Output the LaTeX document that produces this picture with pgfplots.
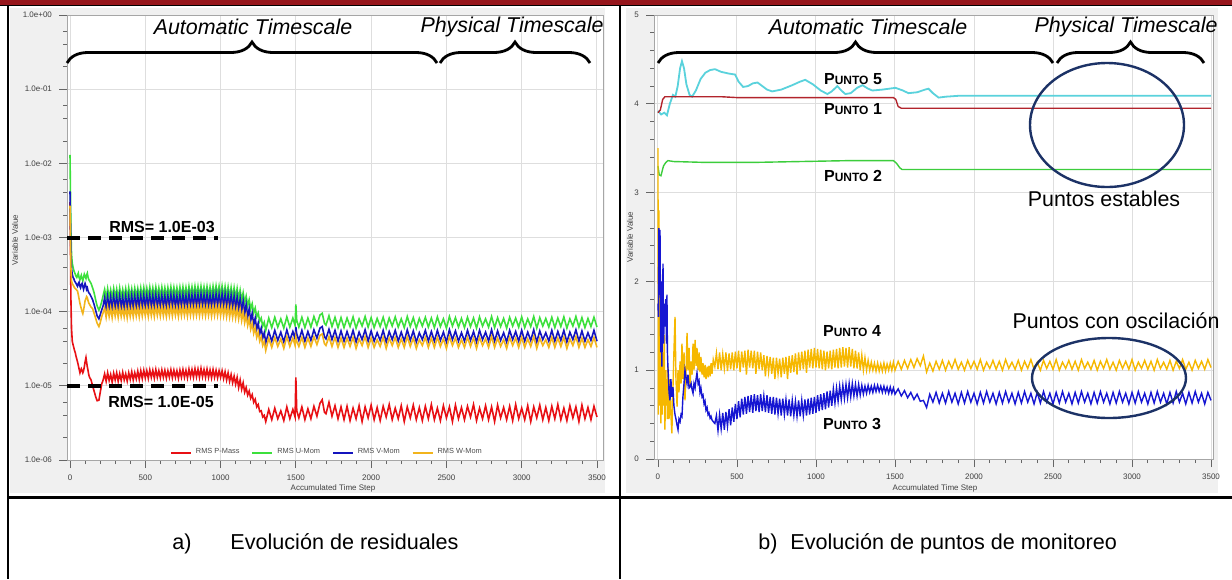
\documentclass[border=0pt]{standalone}
\usepackage{fontspec}
\setmainfont{Liberation Sans}
\usepackage{pgfplots}
\usepackage{pgfplotstable}
\pgfplotsset{compat=1.18}
\usetikzlibrary{decorations.pathreplacing}
\definecolor{topred}{RGB}{150,22,28}
\definecolor{panelgrey}{RGB}{240,240,240}
\definecolor{lred}{RGB}{232,16,20}
\definecolor{lgreen}{RGB}{60,224,60}
\definecolor{lblue}{RGB}{20,20,190}
\definecolor{lyellow}{RGB}{242,180,28}
\definecolor{pcyan}{RGB}{90,210,220}
\definecolor{pred}{RGB}{178,36,44}
\definecolor{pgreen}{RGB}{60,205,60}
\definecolor{pblue}{RGB}{22,22,210}
\definecolor{pyellow}{RGB}{246,184,0}
\definecolor{navyell}{RGB}{28,50,102}

\pgfplotstableread{
x r g b w
0 3e-3 1.3e-2 4.2e-3 2.7e-3
3 8e-4 4e-3 1.5e-3 1e-3
6 1.5e-4 1.2e-3 6e-4 4e-4
10 6e-5 6e-4 3.8e-4 2.6e-4
15 4e-5 4.5e-4 3.2e-4 2.4e-4
20 3.6e-5 4e-4 2.9e-4 2.3e-4
25 3.3e-5 3.6e-4 2.8e-4 2.2e-4
30 3e-5 3.4e-4 2.6e-4 2.1e-4
35 2.8e-5 3.2e-4 2.5e-4 2.05e-4
40 2.5e-5 3.0e-4 2.4e-4 2.0e-4
45 2.3e-5 2.9e-4 2.3e-4 1.95e-4
50 2.1e-5 3.1e-4 2.2e-4 1.9e-4
55 1.9e-5 3.3e-4 2.4e-4 1.7e-4
60 1.7e-5 2.9e-4 2.5e-4 1.5e-4
66 1.5e-5 2.7e-4 2.2e-4 1.3e-4
70 1.6e-5 2.9e-4 2.1e-4 1.2e-4
75 1.7e-5 3.1e-4 2.3e-4 1.1e-4
80 1.6e-5 2.8e-4 2.4e-4 1.0e-4
85 1.5e-5 2.6e-4 2.2e-4 9.4e-5
90 1.6e-5 2.9e-4 2.0e-4 1.05e-4
95 1.8e-5 3.2e-4 2.2e-4 1.2e-4
100 2.1e-5 3.0e-4 2.4e-4 1.4e-4
106 2.4e-5 2.8e-4 2.2e-4 1.5e-4
110 2.1e-5 3.1e-4 2.0e-4 1.6e-4
115 1.8e-5 3.3e-4 2.1e-4 1.55e-4
120 1.6e-5 2.9e-4 1.9e-4 1.4e-4
125 1.4e-5 2.7e-4 1.8e-4 1.3e-4
130 1.3e-5 2.6e-4 1.75e-4 1.25e-4
140 1.2e-5 2.4e-4 1.6e-4 1.15e-4
150 1.0e-5 2.1e-4 1.45e-4 1.1e-4
160 8.5e-6 1.8e-4 1.25e-4 9.5e-5
170 7.2e-6 1.45e-4 1.05e-4 8.2e-5
180 6.3e-6 1.2e-4 8.8e-5 7e-5
192 6.4e-6 1.05e-4 8e-5 6.3e-5
200 8e-6 1.15e-4 9e-5 7e-5
210 1.05e-5 1.35e-4 1.05e-4 8.5e-5
220 1.2e-5 1.65e-4 1.2e-4 9.7e-5
230 1.45e-5 2.0e-4 1.55e-4 1.12e-4
240 1.15e-5 1.5e-4 1.08e-4 8.4e-5
250 1.5e-5 2.05e-4 1.6e-4 1.15e-4
260 1.18e-5 1.55e-4 1.1e-4 8.6e-5
270 1.42e-5 1.98e-4 1.58e-4 1.13e-4
280 1.12e-5 1.52e-4 1.07e-4 8.3e-5
290 1.48e-5 2.06e-4 1.62e-4 1.16e-4
300 1.2e-5 1.56e-4 1.1e-4 8.7e-5
310 1.5e-5 2.02e-4 1.6e-4 1.14e-4
320 1.15e-5 1.5e-4 1.06e-4 8.4e-5
330 1.46e-5 2.08e-4 1.63e-4 1.17e-4
340 1.18e-5 1.54e-4 1.1e-4 8.6e-5
350 1.52e-5 2.0e-4 1.58e-4 1.12e-4
360 1.2e-5 1.56e-4 1.09e-4 8.5e-5
370 1.45e-5 2.05e-4 1.62e-4 1.15e-4
380 1.16e-5 1.52e-4 1.07e-4 8.3e-5
390 1.5e-5 2.1e-4 1.6e-4 1.16e-4
400 1.22e-5 1.56e-4 1.1e-4 8.6e-5
410 1.55e-5 2.04e-4 1.64e-4 1.14e-4
420 1.2e-5 1.55e-4 1.08e-4 8.5e-5
430 1.5e-5 2.08e-4 1.62e-4 1.17e-4
440 1.24e-5 1.58e-4 1.1e-4 8.7e-5
450 1.58e-5 2.06e-4 1.65e-4 1.15e-4
460 1.22e-5 1.55e-4 1.09e-4 8.5e-5
470 1.6e-5 2.1e-4 1.63e-4 1.18e-4
480 1.25e-5 1.58e-4 1.11e-4 8.7e-5
490 1.62e-5 2.12e-4 1.66e-4 1.16e-4
500 1.28e-5 1.6e-4 1.12e-4 8.8e-5
510 1.6e-5 2.08e-4 1.64e-4 1.17e-4
520 1.26e-5 1.57e-4 1.1e-4 8.6e-5
530 1.64e-5 2.14e-4 1.67e-4 1.19e-4
540 1.3e-5 1.6e-4 1.12e-4 8.8e-5
550 1.62e-5 2.1e-4 1.65e-4 1.16e-4
560 1.27e-5 1.58e-4 1.1e-4 8.6e-5
570 1.66e-5 2.15e-4 1.68e-4 1.2e-4
580 1.3e-5 1.6e-4 1.13e-4 8.9e-5
590 1.6e-5 2.1e-4 1.64e-4 1.17e-4
600 1.28e-5 1.58e-4 1.11e-4 8.7e-5
610 1.64e-5 2.14e-4 1.66e-4 1.19e-4
620 1.3e-5 1.6e-4 1.12e-4 8.8e-5
630 1.62e-5 2.1e-4 1.64e-4 1.16e-4
640 1.27e-5 1.57e-4 1.1e-4 8.6e-5
650 1.6e-5 2.12e-4 1.65e-4 1.18e-4
660 1.3e-5 1.6e-4 1.12e-4 8.8e-5
670 1.65e-5 2.16e-4 1.68e-4 1.2e-4
680 1.28e-5 1.58e-4 1.11e-4 8.7e-5
690 1.62e-5 2.12e-4 1.66e-4 1.18e-4
700 1.3e-5 1.6e-4 1.13e-4 8.9e-5
710 1.6e-5 2.1e-4 1.64e-4 1.16e-4
720 1.26e-5 1.57e-4 1.1e-4 8.6e-5
730 1.63e-5 2.14e-4 1.66e-4 1.19e-4
740 1.3e-5 1.6e-4 1.12e-4 8.8e-5
750 1.66e-5 2.16e-4 1.68e-4 1.2e-4
760 1.3e-5 1.6e-4 1.13e-4 8.9e-5
770 1.62e-5 2.12e-4 1.65e-4 1.17e-4
780 1.28e-5 1.58e-4 1.11e-4 8.7e-5
790 1.68e-5 2.18e-4 1.7e-4 1.21e-4
800 1.32e-5 1.62e-4 1.14e-4 8.9e-5
810 1.66e-5 2.16e-4 1.68e-4 1.2e-4
820 1.3e-5 1.6e-4 1.12e-4 8.8e-5
830 1.7e-5 2.2e-4 1.7e-4 1.21e-4
840 1.32e-5 1.62e-4 1.14e-4 8.9e-5
850 1.68e-5 2.18e-4 1.69e-4 1.2e-4
860 1.3e-5 1.6e-4 1.13e-4 8.8e-5
870 1.72e-5 2.2e-4 1.71e-4 1.22e-4
880 1.32e-5 1.62e-4 1.14e-4 8.9e-5
890 1.66e-5 2.16e-4 1.68e-4 1.2e-4
900 1.3e-5 1.6e-4 1.12e-4 8.8e-5
910 1.68e-5 2.18e-4 1.7e-4 1.21e-4
920 1.3e-5 1.61e-4 1.13e-4 8.9e-5
930 1.64e-5 2.14e-4 1.67e-4 1.19e-4
940 1.28e-5 1.58e-4 1.11e-4 8.7e-5
950 1.66e-5 2.2e-4 1.69e-4 1.2e-4
960 1.3e-5 1.62e-4 1.13e-4 8.9e-5
970 1.62e-5 2.22e-4 1.72e-4 1.22e-4
980 1.28e-5 1.64e-4 1.14e-4 8.9e-5
990 1.6e-5 2.2e-4 1.7e-4 1.21e-4
1000 1.3e-5 1.62e-4 1.13e-4 8.8e-5
1010 1.6e-5 2.22e-4 1.72e-4 1.22e-4
1020 1.25e-5 1.6e-4 1.12e-4 8.8e-5
1030 1.55e-5 2.18e-4 1.7e-4 1.2e-4
1040 1.2e-5 1.58e-4 1.11e-4 8.6e-5
1050 1.5e-5 2.16e-4 1.68e-4 1.19e-4
1060 1.15e-5 1.56e-4 1.1e-4 8.5e-5
1070 1.42e-5 2.12e-4 1.65e-4 1.17e-4
1080 1.1e-5 1.54e-4 1.08e-4 8.4e-5
1090 1.35e-5 2.1e-4 1.62e-4 1.15e-4
1100 1.05e-5 1.52e-4 1.06e-4 8.2e-5
1110 1.3e-5 2.05e-4 1.58e-4 1.12e-4
1120 9.5e-6 1.48e-4 1.03e-4 8e-5
1130 1.2e-5 1.95e-4 1.5e-4 1.08e-4
1140 9e-6 1.42e-4 9.8e-5 7.6e-5
1150 1.1e-5 1.8e-4 1.4e-4 1.0e-4
1160 8.2e-6 1.32e-4 9.2e-5 7.1e-5
1170 9.5e-6 1.62e-4 1.26e-4 9e-5
1180 7.5e-6 1.2e-4 8.4e-5 6.5e-5
1190 8.5e-6 1.45e-4 1.1e-4 8e-5
1200 6.8e-6 1.08e-4 7.5e-5 5.8e-5
1210 7.6e-6 1.28e-4 9.5e-5 7e-5
1220 6e-6 9.6e-5 6.6e-5 5.1e-5
1230 6.6e-6 1.12e-4 8.2e-5 6.1e-5
1240 5.2e-6 8.5e-5 5.8e-5 4.5e-5
1250 5.6e-6 9.6e-5 7e-5 5.3e-5
1260 4.5e-6 7.4e-5 5e-5 4e-5
1270 4.6e-6 8.2e-5 6e-5 4.6e-5
1280 3.8e-6 6.4e-5 4.4e-5 3.5e-5
1290 4e-6 7.2e-5 5.2e-5 4e-5
1300 3.3e-6 5.6e-5 3.8e-5 3.0e-5
1320 4.8e-6 8.2e-5 5.4e-5 4.4e-5
1340 3.5e-6 6.1e-5 4.0e-5 3.3e-5
1360 5.0e-6 8.4e-5 5.6e-5 4.5e-5
1380 3.6e-6 6.2e-5 4.1e-5 3.4e-5
1400 4.6e-6 8.0e-5 5.3e-5 4.3e-5
1420 3.4e-6 6.0e-5 3.9e-5 3.2e-5
1440 5.2e-6 8.5e-5 5.7e-5 4.6e-5
1460 3.6e-6 6.2e-5 4.1e-5 3.4e-5
1480 4.8e-6 8.2e-5 5.4e-5 4.4e-5
1495 3.8e-6 6.5e-5 4.3e-5 3.5e-5
1500 1.3e-5 1.25e-4 6.2e-5 4.6e-5
1506 4.6e-6 7.6e-5 5.0e-5 4.0e-5
1520 3.7e-6 6.2e-5 4.1e-5 3.4e-5
1540 5.2e-6 8.4e-5 5.6e-5 4.5e-5
1560 3.5e-6 6.1e-5 4.0e-5 3.3e-5
1580 4.9e-6 8.2e-5 5.4e-5 4.4e-5
1600 3.6e-6 6.2e-5 4.1e-5 3.4e-5
1620 5.3e-6 8.6e-5 5.7e-5 4.6e-5
1640 3.9e-6 6.6e-5 4.4e-5 3.6e-5
1660 5.8e-6 9.0e-5 6.0e-5 4.8e-5
1675 6.5e-6 9.5e-5 6.3e-5 5.0e-5
1690 4.4e-6 7.0e-5 4.6e-5 3.7e-5
1700 4.2e-6 6.6e-5 4.3e-5 3.5e-5
1720 6.0e-6 8.8e-5 5.8e-5 4.6e-5
1740 3.9e-6 6.3e-5 4.2e-5 3.4e-5
1760 5.4e-6 8.4e-5 5.6e-5 4.5e-5
1780 3.6e-6 6.1e-5 4.0e-5 3.3e-5
1800 5.2e-6 8.3e-5 5.5e-5 4.4e-5
1820 3.5e-6 6.1e-5 4.0e-5 3.3e-5
1840 5.3e-6 8.2e-5 5.4e-5 4.4e-5
1860 3.4e-6 6.3e-5 4.1e-5 3.4e-5
1880 5.0e-6 8.5e-5 5.6e-5 4.5e-5
1900 3.6e-6 6.0e-5 3.9e-5 3.2e-5
1920 5.4e-6 8.0e-5 5.3e-5 4.3e-5
1940 3.3e-6 6.4e-5 4.2e-5 3.5e-5
1960 5.2e-6 8.6e-5 5.7e-5 4.6e-5
1980 3.7e-6 6.2e-5 4.0e-5 3.3e-5
2000 5.5e-6 8.3e-5 5.5e-5 4.4e-5
2020 3.5e-6 6.1e-5 4.0e-5 3.3e-5
2040 5.1e-6 8.1e-5 5.2e-5 4.2e-5
2060 3.4e-6 6.3e-5 4.1e-5 3.4e-5
2080 5.3e-6 8.4e-5 5.6e-5 4.5e-5
2100 3.8e-6 6.0e-5 3.9e-5 3.2e-5
2120 5.6e-6 8.2e-5 5.4e-5 4.4e-5
2140 3.5e-6 6.4e-5 4.2e-5 3.5e-5
2160 5.0e-6 8.5e-5 5.6e-5 4.5e-5
2180 3.6e-6 6.2e-5 4.0e-5 3.3e-5
2200 5.4e-6 8.0e-5 5.3e-5 4.3e-5
2220 3.3e-6 6.1e-5 4.0e-5 3.3e-5
2240 5.2e-6 8.6e-5 5.7e-5 4.6e-5
2260 3.7e-6 6.3e-5 4.1e-5 3.4e-5
2280 5.5e-6 8.3e-5 5.5e-5 4.4e-5
2300 3.5e-6 6.0e-5 3.9e-5 3.2e-5
2320 5.1e-6 8.1e-5 5.2e-5 4.2e-5
2340 3.4e-6 6.4e-5 4.2e-5 3.5e-5
2360 5.3e-6 8.4e-5 5.6e-5 4.5e-5
2380 3.6e-6 6.2e-5 4.0e-5 3.3e-5
2400 5.6e-6 8.2e-5 5.4e-5 4.4e-5
2420 3.5e-6 6.1e-5 4.0e-5 3.3e-5
2440 5.0e-6 8.5e-5 5.6e-5 4.5e-5
2460 3.4e-6 6.3e-5 4.1e-5 3.4e-5
2480 5.4e-6 8.0e-5 5.3e-5 4.3e-5
2500 3.7e-6 6.0e-5 3.9e-5 3.2e-5
2520 5.2e-6 8.6e-5 5.7e-5 4.6e-5
2540 3.3e-6 6.4e-5 4.2e-5 3.5e-5
2560 5.5e-6 8.3e-5 5.5e-5 4.4e-5
2580 3.6e-6 6.2e-5 4.0e-5 3.3e-5
2600 5.1e-6 8.1e-5 5.2e-5 4.2e-5
2620 3.5e-6 6.1e-5 4.0e-5 3.3e-5
2640 5.3e-6 8.4e-5 5.6e-5 4.5e-5
2660 3.8e-6 6.3e-5 4.1e-5 3.4e-5
2680 5.6e-6 8.2e-5 5.4e-5 4.4e-5
2700 3.4e-6 6.0e-5 3.9e-5 3.2e-5
2720 5.0e-6 8.5e-5 5.6e-5 4.5e-5
2740 3.6e-6 6.4e-5 4.2e-5 3.5e-5
2760 5.4e-6 8.0e-5 5.3e-5 4.3e-5
2780 3.5e-6 6.2e-5 4.0e-5 3.3e-5
2800 5.2e-6 8.6e-5 5.7e-5 4.6e-5
2820 3.3e-6 6.1e-5 4.0e-5 3.3e-5
2840 5.5e-6 8.3e-5 5.5e-5 4.4e-5
2860 3.7e-6 6.3e-5 4.1e-5 3.4e-5
2880 5.1e-6 8.1e-5 5.2e-5 4.2e-5
2900 3.5e-6 6.0e-5 3.9e-5 3.2e-5
2920 5.3e-6 8.4e-5 5.6e-5 4.5e-5
2940 3.4e-6 6.4e-5 4.2e-5 3.5e-5
2960 5.6e-6 8.2e-5 5.4e-5 4.4e-5
2980 3.6e-6 6.2e-5 4.0e-5 3.3e-5
3000 5.0e-6 8.5e-5 5.6e-5 4.5e-5
3020 3.5e-6 6.1e-5 4.0e-5 3.3e-5
3040 5.4e-6 8.0e-5 5.3e-5 4.3e-5
3060 3.3e-6 6.3e-5 4.1e-5 3.4e-5
3080 5.2e-6 8.6e-5 5.7e-5 4.6e-5
3100 3.7e-6 6.0e-5 3.9e-5 3.2e-5
3120 5.5e-6 8.3e-5 5.5e-5 4.4e-5
3140 3.5e-6 6.4e-5 4.2e-5 3.5e-5
3160 5.1e-6 8.1e-5 5.2e-5 4.2e-5
3180 3.4e-6 6.2e-5 4.0e-5 3.3e-5
3200 5.3e-6 8.4e-5 5.6e-5 4.5e-5
3220 3.6e-6 6.1e-5 4.0e-5 3.3e-5
3240 5.6e-6 8.2e-5 5.4e-5 4.4e-5
3260 3.5e-6 6.3e-5 4.1e-5 3.4e-5
3280 5.0e-6 8.5e-5 5.6e-5 4.5e-5
3300 3.4e-6 6.0e-5 3.9e-5 3.2e-5
3320 5.4e-6 8.0e-5 5.3e-5 4.3e-5
3340 3.7e-6 6.4e-5 4.2e-5 3.5e-5
3360 5.2e-6 8.6e-5 5.7e-5 4.6e-5
3380 3.3e-6 6.2e-5 4.0e-5 3.3e-5
3400 5.5e-6 8.3e-5 5.5e-5 4.4e-5
3420 3.6e-6 6.1e-5 4.0e-5 3.3e-5
3440 5.1e-6 8.1e-5 5.2e-5 4.2e-5
3460 3.5e-6 6.3e-5 4.1e-5 3.4e-5
3480 5.3e-6 8.4e-5 5.6e-5 4.5e-5
3500 3.8e-6 6.2e-5 4.0e-5 3.3e-5
}\residtab

\pgfplotstableread{
x b y
0 1.75 3.5
3 1.6 0.5
6 2.6 2.8
10 2.4 0.6
13 2.58 2.0
18 1.2 0.4
22 2.0 1.6
25 1.04 1.0
28 1.6 0.5
32 2.2 1.2
36 1.3 0.6
40 1.75 1.4
44 1.49 0.33
50 1.8 1.0
54 1.3 0.6
57 1.85 0.9
60 1.2 0.45
63 1.04 1.04
67 0.9 0.7
70 0.75 0.45
76 0.66 0.9
82 0.9 0.5
88 0.7 0.29
95 0.81 0.8
101 0.6 1.2
108 0.5 1.6
114 0.45 0.9
121 0.38 0.59
127 0.33 1.0
133 0.45 0.75
140 0.42 1.1
146 0.5 0.85
152 0.48 1.3
158 0.7 0.9
165 0.85 1.2
171 1.0 0.66
178 0.92 1.0
184 0.85 1.42
190 0.95 1.0
197 0.8 1.25
203 0.81 0.81
210 0.85 1.1
216 0.78 0.95
222 0.74 1.3
228 0.85 1.0
235 0.8 1.34
241 0.9 1.05
247 0.97 1.25
254 0.85 1.0
260 0.88 1.2
266 0.75 0.98
272 0.8 1.15
279 0.7 0.95
285 0.72 1.08
292 0.62 0.92
298 0.65 1.06
304 0.55 0.9
311 0.58 1.04
317 0.5 0.92
323 0.52 1.05
330 0.46 0.93
336 0.48 1.08
342 0.44 0.96
350 0.42 1.12
360 0.4 1.04
370 0.49 1.19
380 0.32 1.01
390 0.50 1.2
400 0.34 1.0
410 0.52 1.18
420 0.33 1.02
430 0.53 1.2
440 0.37 0.99
450 0.56 1.19
460 0.38 1.01
470 0.58 1.2
480 0.42 1.0
490 0.62 1.21
500 0.45 1.02
510 0.65 1.22
520 0.47 0.98
530 0.68 1.21
540 0.5 1.03
550 0.7 1.22
560 0.51 0.95
570 0.71 1.23
580 0.53 1.03
590 0.72 1.22
600 0.52 1.02
610 0.73 1.22
620 0.54 0.96
630 0.72 1.21
640 0.53 1.01
650 0.73 1.2
660 0.54 1.0
670 0.71 1.17
680 0.53 0.93
690 0.72 1.16
700 0.52 0.98
710 0.7 1.15
720 0.51 0.96
730 0.7 1.14
740 0.5 0.9
750 0.69 1.14
760 0.51 0.96
770 0.68 1.13
780 0.49 0.92
790 0.68 1.14
800 0.5 0.96
810 0.67 1.15
820 0.49 0.9
830 0.67 1.16
840 0.48 0.97
850 0.66 1.17
860 0.49 0.98
870 0.65 1.19
880 0.48 0.95
890 0.66 1.2
900 0.48 1.0
910 0.66 1.21
920 0.49 1.01
930 0.67 1.22
940 0.49 0.97
950 0.68 1.23
960 0.5 1.03
970 0.69 1.24
980 0.51 1.02
990 0.7 1.25
1000 0.52 1.03
1010 0.72 1.24
1020 0.54 1.02
1030 0.73 1.23
1040 0.55 1.01
1050 0.74 1.22
1060 0.56 1.0
1070 0.76 1.21
1080 0.58 1.02
1090 0.77 1.22
1100 0.6 1.01
1110 0.79 1.23
1120 0.63 1.03
1130 0.8 1.24
1140 0.65 1.02
1150 0.82 1.25
1160 0.67 1.03
1170 0.83 1.26
1180 0.68 1.04
1190 0.84 1.25
1200 0.69 1.03
1210 0.85 1.26
1220 0.7 1.04
1230 0.85 1.24
1240 0.71 1.02
1250 0.84 1.22
1260 0.71 1.02
1270 0.84 1.2
1280 0.72 1.0
1290 0.83 1.17
1300 0.73 1.0
1310 0.82 1.14
1320 0.74 1.0
1330 0.83 1.11
1340 0.75 1.0
1350 0.82 1.09
1360 0.75 1.0
1370 0.83 1.08
1380 0.76 0.99
1390 0.83 1.08
1400 0.76 0.99
1410 0.82 1.07
1420 0.75 0.99
1430 0.82 1.08
1440 0.75 0.99
1450 0.81 1.07
1460 0.74 1.0
1470 0.81 1.08
1480 0.74 1.0
1490 0.8 1.09
1500 0.73 1.0
1520 0.79 1.1
1540 0.71 1.01
1560 0.77 1.11
1580 0.69 1.02
1600 0.75 1.12
1620 0.67 1.03
1640 0.73 1.13
1660 0.65 1.05
1680 0.66 1.16
1700 0.58 0.98
1720 0.73 1.08
1740 0.64 0.99
1760 0.75 1.1
1780 0.63 1.01
1800 0.74 1.11
1820 0.63 1.0
1840 0.76 1.1
1860 0.64 1.02
1880 0.74 1.12
1900 0.62 1.01
1920 0.75 1.09
1940 0.63 1.0
1960 0.76 1.11
1980 0.64 1.02
2000 0.74 1.1
2020 0.62 1.01
2040 0.75 1.12
2060 0.63 1.0
2080 0.76 1.09
2100 0.64 1.02
2120 0.74 1.11
2140 0.62 1.01
2160 0.75 1.1
2180 0.63 1.0
2200 0.76 1.12
2220 0.64 1.02
2240 0.74 1.09
2260 0.62 1.01
2280 0.75 1.11
2300 0.63 1.0
2320 0.76 1.1
2340 0.64 1.02
2360 0.74 1.12
2380 0.62 1.01
2400 0.75 1.09
2420 0.63 1.0
2440 0.76 1.11
2460 0.64 1.02
2480 0.74 1.1
2500 0.62 1.01
2520 0.75 1.12
2540 0.63 1.0
2560 0.76 1.09
2580 0.64 1.02
2600 0.74 1.11
2620 0.62 1.01
2640 0.75 1.1
2660 0.63 1.0
2680 0.76 1.12
2700 0.64 1.02
2720 0.74 1.09
2740 0.62 1.01
2760 0.75 1.11
2780 0.63 1.0
2800 0.76 1.1
2820 0.64 1.02
2840 0.74 1.12
2860 0.62 1.01
2880 0.75 1.09
2900 0.63 1.0
2920 0.76 1.11
2940 0.64 1.02
2960 0.74 1.1
2980 0.62 1.01
3000 0.75 1.12
3020 0.63 1.0
3040 0.76 1.09
3060 0.64 1.02
3080 0.74 1.11
3100 0.62 1.01
3120 0.75 1.1
3140 0.63 1.0
3160 0.76 1.12
3180 0.64 1.02
3200 0.74 1.09
3220 0.62 1.01
3240 0.75 1.11
3260 0.63 1.0
3280 0.76 1.1
3300 0.64 1.02
3320 0.74 1.12
3340 0.62 1.01
3360 0.75 1.09
3380 0.63 1.0
3400 0.76 1.11
3420 0.64 1.02
3440 0.74 1.1
3460 0.62 1.01
3480 0.75 1.12
3500 0.66 1.03
}\osctab

\pgfplotsset{
  base/.style={
    scale only axis,
    anchor=south west,
    axis background/.style={fill=white},
    tick align=outside, tick pos=left,
    major tick length=4pt, minor tick length=2pt,
    tick style={color=black!60, line width=0.4pt},
    grid=major, grid style={color=black!13, line width=0.5pt},
    axis line style={draw=black!35, line width=0.5pt},
    ticklabel style={font=\fontsize{4}{5}\selectfont, text=black!75},
    /pgf/number format/assume math mode=true,
    /pgf/number format/1000 sep={},
    xtick={0,500,...,3500},
    minor xtick={0,100,...,3500},
  }
}
\newcommand\punto[1]{\textbf{{\fontsize{8}{9}\selectfont P}{\fontsize{6}{7}\selectfont UNTO}\fontsize{8}{9}\selectfont\ #1}}

\begin{document}
\begin{tikzpicture}
\path[use as bounding box] (0,0) rectangle (616pt,-289.5pt);
\fill[white] (0,0) rectangle (616pt,-289.5pt);
\fill[panelgrey] (5pt,-4pt) rectangle (302.5pt,-246.5pt);
\fill[panelgrey] (313pt,-4pt) rectangle (609pt,-246.5pt);

% ---------- left: residuals ----------
\begin{axis}[base,
  at={(33.5pt,-230pt)}, width=268pt, height=222.5pt,
  xmin=-20, xmax=3540,
  ymode=log, ymin=1e-6, ymax=1,
  ytick={1e-6,1e-5,1e-4,1e-3,1e-2,1e-1,1},
  yticklabels={1.0e-06,1.0e-05,1.0e-04,1.0e-03,1.0e-02,1.0e-01,1.0e+00},
  minor ytick={2e-6,4e-6,6e-6,2e-5,4e-5,6e-5,2e-4,4e-4,6e-4,2e-3,4e-3,6e-3,2e-2,4e-2,6e-2,2e-1,4e-1,6e-1},
  legend style={at={(0.487,0.016)}, anchor=center, draw=none, fill=none,
    font=\fontsize{3.7}{4.5}\selectfont, text=black!70, inner sep=0pt,
    /tikz/every even column/.append style={column sep=4pt}},
  legend columns=4,
  legend image code/.code={\draw[#1, line width=0.9pt] (0pt,0pt) -- (10pt,0pt);},
]
\addplot[lred, line width=0.8pt] table[x=x, y=r]{\residtab};
\addlegendentry{RMS P-Mass}
\addplot[lgreen, line width=0.8pt] table[x=x, y=g]{\residtab};
\addlegendentry{RMS U-Mom}
\addplot[lblue, line width=0.8pt] table[x=x, y=b]{\residtab};
\addlegendentry{RMS V-Mom}
\addplot[lyellow, line width=0.8pt] table[x=x, y=w]{\residtab};
\addlegendentry{RMS W-Mom}
\addplot[black, line width=2pt, dash pattern=on 6.5pt off 4pt, forget plot] coordinates {(-20,1e-3) (981,1e-3)};
\addplot[black, line width=2pt, dash pattern=on 6.5pt off 4pt, forget plot] coordinates {(-20,1e-5) (981,1e-5)};
\end{axis}

% ---------- right: monitor points ----------
\begin{axis}[base,
  at={(327pt,-229.5pt)}, width=279.7pt, height=222pt,
  xmin=-25, xmax=3515,
  ymin=0, ymax=5,
  ytick={0,1,2,3,4,5},
  minor ytick={0,0.2,...,5},
]
\addplot[pcyan, line width=0.9pt] coordinates {(0,3.92)(20,3.88)(40,3.9)(57,3.87)(75,4.0)(95,4.1)(110,4.08)(125,4.2)(140,4.4)(152,4.48)(165,4.4)(180,4.22)(200,4.1)(216,4.08)(240,4.15)(270,4.28)(300,4.35)(330,4.38)(361,4.39)(400,4.36)(450,4.34)(488,4.33)(510,4.25)(539,4.19)(570,4.2)(600,4.23)(630,4.24)(660,4.2)(690,4.16)(723,4.14)(780,4.16)(850,4.21)(900,4.25)(932,4.27)(980,4.22)(1030,4.15)(1072,4.11)(1100,4.14)(1135,4.2)(1160,4.15)(1186,4.11)(1220,4.12)(1260,4.18)(1294,4.21)(1330,4.17)(1357,4.15)(1420,4.16)(1503,4.18)(1550,4.15)(1585,4.12)(1640,4.13)(1690,4.16)(1712,4.17)(1740,4.12)(1776,4.07)(1820,4.08)(1900,4.09)(2200,4.09)(2600,4.09)(3000,4.09)(3500,4.09)};
\addplot[pred, line width=0.7pt] coordinates {(0,3.9)(15,3.93)(30,4.05)(44,4.08)(100,4.08)(400,4.08)(500,4.07)(1490,4.07)(1505,4.05)(1520,3.97)(1540,3.95)(3500,3.95)};
\addplot[pgreen, line width=0.7pt] coordinates {(0,3.3)(8,3.2)(19,3.19)(35,3.3)(50,3.34)(63,3.36)(100,3.35)(300,3.34)(600,3.34)(900,3.35)(1200,3.36)(1490,3.36)(1510,3.33)(1530,3.28)(1545,3.26)(3500,3.26)};
\addplot[pyellow, line width=0.7pt] table[x=x, y=y]{\osctab};
\addplot[pblue, line width=0.7pt] table[x=x, y=b]{\osctab};
\end{axis}

% ---------- table frame ----------
\fill[topred] (0,0) rectangle (616pt,-2.5pt);
\draw[line width=0.6pt] (0,-2.8pt) -- (616pt,-2.8pt);
\draw[line width=1.3pt] (4pt,-3pt) -- (4pt,-289.5pt);
\draw[line width=1.3pt] (310pt,-3pt) -- (310pt,-289.5pt);
\draw[line width=1.5pt] (4pt,-248.5pt) -- (616pt,-248.5pt);

% ---------- axis labels ----------
\node[font=\fontsize{4}{5}\selectfont, text=black!75] at (166.5pt,-244pt) {Accumulated Time Step};
\node[font=\fontsize{4}{5}\selectfont, text=black!75] at (467.5pt,-244pt) {Accumulated Time Step};
\node[font=\fontsize{4}{5}\selectfont, text=black!75, rotate=90] at (7.5pt,-120pt) {Variable Value};
\node[font=\fontsize{4}{5}\selectfont, text=black!75, rotate=90] at (315pt,-118.5pt) {Variable Value};

% ---------- timescale braces ----------
\begin{scope}[font=\fontsize{10.7}{12}\selectfont\itshape]
\node at (126.5pt,-13.5pt) {Automatic Timescale};
\node at (256pt,-13.5pt) {Physical Timescale};
\node at (434pt,-13.5pt) {Automatic Timescale};
\node at (563pt,-13.5pt) {Physical Timescale};
\end{scope}
\begin{scope}[decoration={brace, amplitude=10.5pt}, line width=1.4pt]
\draw[decorate] (33.5pt,-31.5pt) -- (218.5pt,-31.5pt);
\draw[decorate] (220pt,-31.5pt) -- (295pt,-31.5pt);
\draw[decorate] (329pt,-31.5pt) -- (526.5pt,-31.5pt);
\draw[decorate] (528.5pt,-31.5pt) -- (602pt,-31.5pt);
\end{scope}

% ---------- RMS labels ----------
\node[font=\fontsize{8}{9}\selectfont\bfseries] at (81pt,-113.5pt) {RMS= 1.0E-03};
\node[font=\fontsize{8}{9}\selectfont\bfseries] at (80.5pt,-201pt) {RMS= 1.0E-05};

% ---------- point labels ----------
\node at (426.5pt,-39.5pt) {\punto{5}};
\node at (426.5pt,-54.5pt) {\punto{1}};
\node at (426.5pt,-88pt) {\punto{2}};
\node at (426pt,-165.5pt) {\punto{4}};
\node at (426pt,-212pt) {\punto{3}};

\draw[navyell, line width=1.2pt] (553.5pt,-62.5pt) ellipse [x radius=38.5pt, y radius=31pt];
\draw[navyell, line width=1.2pt] (554.5pt,-189pt) ellipse [x radius=38.5pt, y radius=20pt];
\node[anchor=base, font=\fontsize{10.7}{12}\selectfont] at (552pt,-103pt) {Puntos estables};
\node[anchor=base, font=\fontsize{10.7}{12}\selectfont] at (558pt,-164pt) {Puntos con oscilación};

% ---------- captions ----------
\begin{scope}[font=\fontsize{10.8}{12}\selectfont]
\node[anchor=base west, inner sep=0pt] at (86pt,-274.5pt) {a)};
\node[anchor=base west, inner sep=0pt] at (115pt,-274.5pt) {Evolución de residuales};
\node[anchor=base west, inner sep=0pt] at (379pt,-274.5pt) {b)};
\node[anchor=base west, inner sep=0pt] at (395pt,-274.5pt) {Evolución de puntos de monitoreo};
\end{scope}
\end{tikzpicture}
\end{document}
